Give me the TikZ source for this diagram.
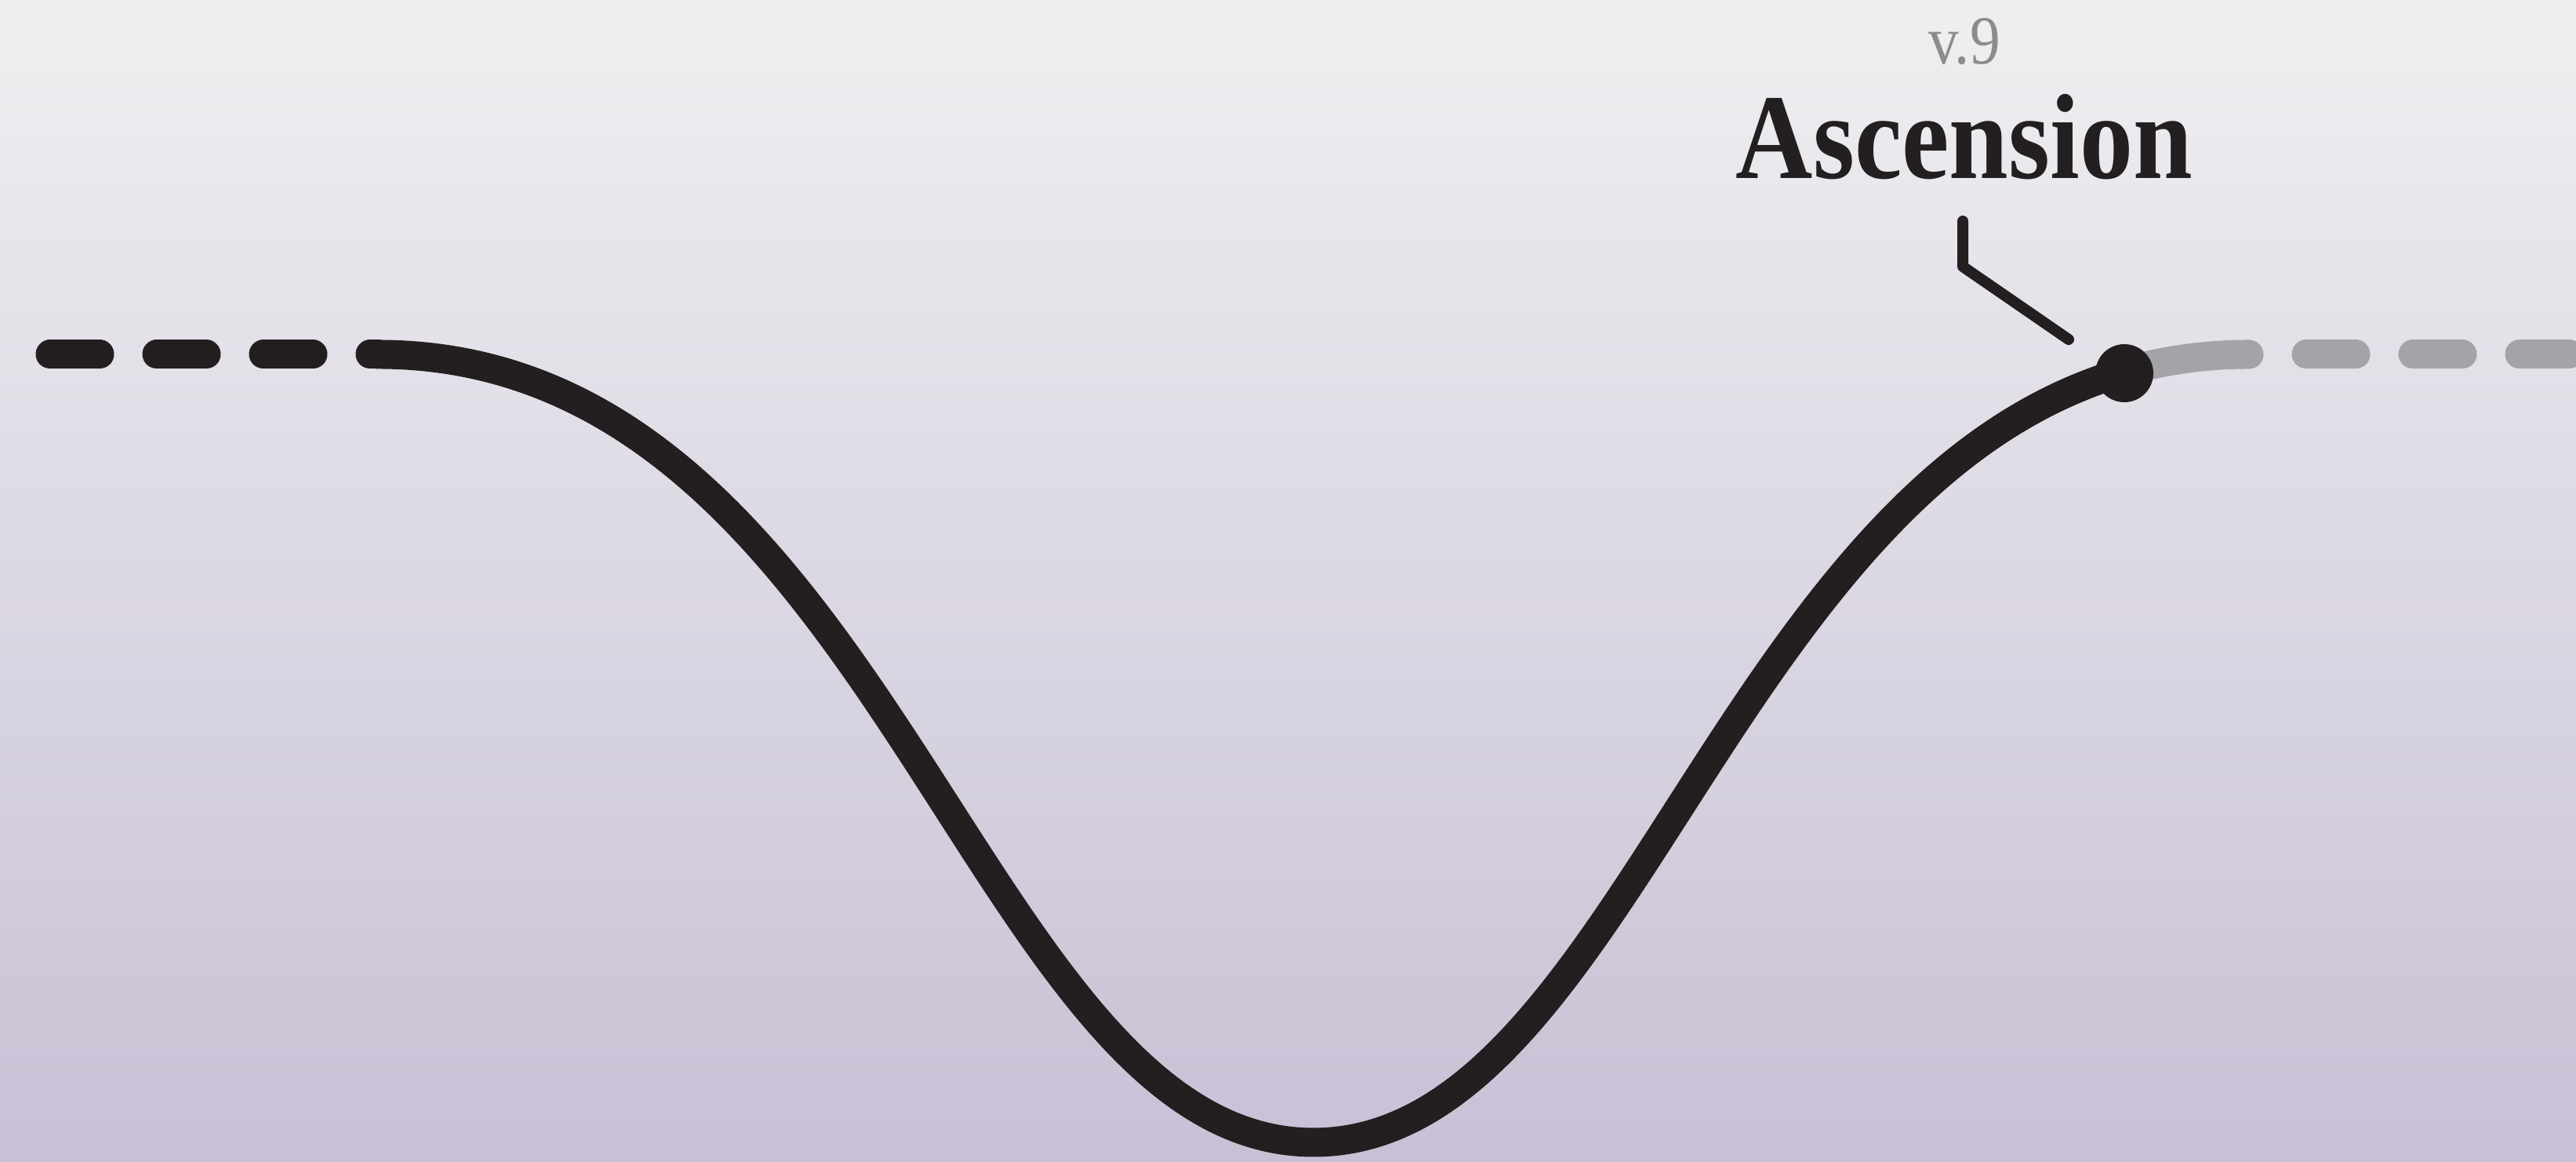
\documentclass[tikz,border=0pt]{standalone}
\usepackage{fontspec}
\setmainfont{Liberation Serif}
\newfontfamily\headfont[FakeStretch=0.88]{Liberation Serif}
\usepackage{xcolor}
\usepackage{tikz}
\usetikzlibrary{calc}
\definecolor{ink}{HTML}{231F20}
\definecolor{fade}{HTML}{A4A3A8}
\definecolor{tagc}{HTML}{8C8C8E}
\definecolor{bgtop}{HTML}{EFEFF1}
\definecolor{bgmid}{HTML}{E7E6EC}
\definecolor{bgbot}{HTML}{C8C0D5}
\tikzset{
  trk/.style={line width=3.7mm,line cap=round,ink},
  ghost/.style={line width=3.7mm,line cap=round,fade},
  dsh/.style={dash pattern=on 6.3mm off 7.3mm},
  lead/.style={line width=1.4mm,line cap=round,line join=round,ink},
  dotnode/.style={circle,fill=ink,inner sep=0pt,minimum size=7.4mm}
}

\begin{document}
\begin{tikzpicture}
\useasboundingbox (0,0) rectangle (32.85,14.82);
\shade[top color=bgtop,middle color=bgmid,bottom color=bgbot] (0,0) rectangle (32.85,14.82);
\coordinate (lead-in) at (0.64,10.30); \coordinate (start) at (4.82,10.30);
\coordinate (low) at (16.75,0.25); \coordinate (finish) at (28.68,10.30); \coordinate (lead-out) at (33.6,10.30);
\begin{scope}
\clip (27.09,0) rectangle (32.85,14.82);
\draw[ghost] (low) .. controls (21.04,0.25) and (22.23,10.30) .. (finish);
\end{scope}
\draw[ghost,dsh,dash phase=6.3mm] (finish) -- (lead-out);
\draw[trk,dsh] (lead-in) -- (start);
\begin{scope}
\clip (0,0) rectangle (27.09,14.82);
\draw[trk] (start) .. controls (11.27,10.30) and (12.46,0.25) .. (low) .. controls (21.04,0.25) and (22.23,10.30) .. (finish);
\end{scope}
\node[dotnode] (peak) at (27.09,10.06) {};
\node[anchor=base,ink,font=\headfont\bfseries\fontsize{44}{52}\selectfont] (title) at (25.05,12.54) {Ascension};
\node[anchor=base,tagc,font=\headfont\fontsize{25}{30}\selectfont] (ver) at (25.05,14.00) {v.9};
\coordinate (tick) at (25.03,12.00); \coordinate (bend) at (25.03,11.42); \coordinate (tip) at (26.38,10.49);
\draw[lead] (tick) -- (bend) -- (tip);
\end{tikzpicture}
\end{document}
